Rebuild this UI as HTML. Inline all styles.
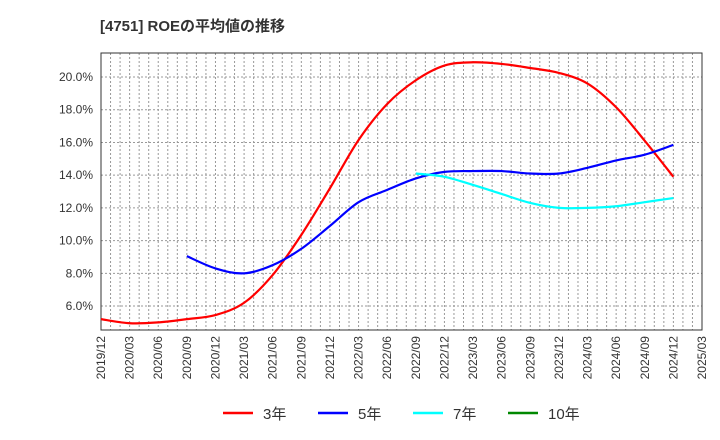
<!DOCTYPE html>
<html><head><meta charset="utf-8"><style>
body{margin:0;background:#fff;width:720px;height:440px;overflow:hidden;font-family:"Liberation Sans","Noto Sans CJK JP",sans-serif}
</style></head><body>
<svg id="c" width="720" height="440" style="position:absolute;left:0;top:0">
<text x="100" y="31" font-size="15" font-weight="bold" fill="#333">[4751]  ROEの平均値の推移</text>
</svg>
<script>
const xLabels=["2019/12","2020/03","2020/06","2020/09","2020/12","2021/03","2021/06","2021/09","2021/12","2022/03","2022/06","2022/09","2022/12","2023/03","2023/06","2023/09","2023/12","2024/03","2024/06","2024/09","2024/12","2025/03"];
const yTicks=[6,8,10,12,14,16,18,20];
const s3=[5.2,4.95,5.0,5.2,5.45,6.2,7.9,10.35,13.2,16.15,18.35,19.8,20.7,20.9,20.8,20.55,20.25,19.6,18.15,16.1,13.9];
const s5=[null,null,null,9.05,8.3,8.0,8.5,9.5,10.9,12.35,13.1,13.8,14.2,14.25,14.25,14.1,14.1,14.45,14.9,15.25,15.85];
const s7=[null,null,null,null,null,null,null,null,null,null,null,14.1,13.9,13.4,12.85,12.3,12.0,12.0,12.1,12.35,12.6];
const s10=[];
const svg=document.getElementById('c');const NS='http://www.w3.org/2000/svg';
const L=101,R=702,T=53,B=330;
const X=i=>L+(R-L)*i/21;
const Y=v=>77+(20-v)*16.36;
function mk(t,a,p){const e=document.createElementNS(NS,t);for(const k in a)e.setAttribute(k,a[k]);(p||svg).appendChild(e);return e;}
for(let m=1;m<63;m++){const x=L+(R-L)*m/63;
const g=mk('line',{x1:x,x2:x,y1:T,y2:B,stroke:'#999','stroke-dasharray':'2,2','stroke-width':1});

}
yTicks.forEach(v=>{const y=Y(v);
const g=mk('line',{x1:L,x2:R,y1:y,y2:y,stroke:'#999','stroke-dasharray':'2,2','stroke-width':1});


const t=mk('text',{x:L-8,y:y+4,'text-anchor':'end','font-size':12,fill:'#333'});t.textContent=v.toFixed(1)+'%';

});
const fr=mk('rect',{x:L,y:T,width:R-L,height:B-T,fill:'none',stroke:'#333','stroke-width':1});


xLabels.forEach((l,i)=>{const x=X(i)+4;
const t=mk('text',{x:x,y:B+6,'text-anchor':'end','font-size':12,fill:'#333',transform:`rotate(-90 ${x} ${B+6})`});t.textContent=l;

});
function path(data,color,name){const p=[];data.forEach((v,i)=>{if(v!=null)p.push([X(i),Y(v)]);});if(p.length<2)return;
let d=`M${p[0][0]},${p[0][1]}`;
for(let i=0;i<p.length-1;i++){const p0=p[i-1]||p[i],p1=p[i],p2=p[i+1],p3=p[i+2]||p2;
d+=` C${p1[0]+(p2[0]-p0[0])/6},${p1[1]+(p2[1]-p0[1])/6} ${p2[0]-(p3[0]-p1[0])/6},${p2[1]-(p3[1]-p1[1])/6} ${p2[0]},${p2[1]}`;}
const e=mk('path',{d:d,fill:'none',stroke:color,'stroke-width':2.2});

}
path(s3,'#f00','series-3y');path(s5,'#00f','series-5y');path(s7,'#0ff','series-7y');path(s10,'#080','series-10y');
[['3年','#f00',223],['5年','#00f',318],['7年','#0ff',413],['10年','#080',508]].forEach(([n,c,x])=>{
const g=mk('g',{});


mk('line',{x1:x,x2:x+30,y1:413,y2:413,stroke:c,'stroke-width':2.5},g);
const t=mk('text',{x:x+40,y:419,'font-size':15,fill:'#333'},g);t.textContent=n;});
</script>
</body></html>
